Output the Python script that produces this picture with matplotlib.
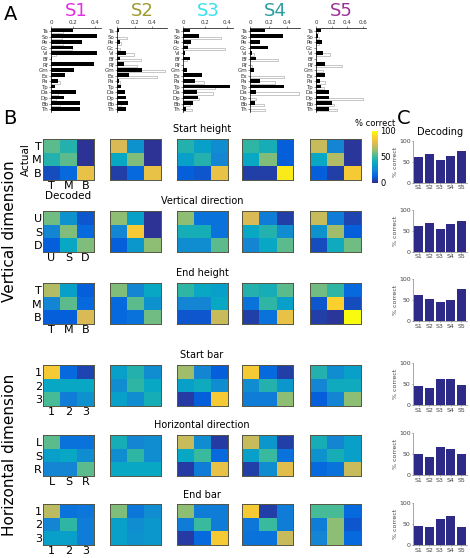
import numpy as np
import matplotlib
matplotlib.use("Agg")
import matplotlib.pyplot as plt
from matplotlib.colors import LinearSegmentedColormap

W, H = 470, 558

# ---- data -------------------------------------------------------------
subjects = ["S1", "S2", "S3", "S4", "S5"]
subject_colors = ["#e22fe2", "#9c9a30", "#36e2ee", "#2a9ea0", "#9e3196"]
muscles = ["Ta", "So", "Pe", "Gc", "Vi", "Bf", "Rf", "Gm",
           "Ex", "Pa", "Tp", "Da", "Dp", "Bb", "Th"]

# panel A: muscle weights (filled black bars / open grey bars), one list per subject
weights_black = [
    [0.20, 0.42, 0.28, 0.20, 0.42, 0.01, 0.39, 0.21, 0.13, 0.06, 0.04, 0.23, 0.12, 0.26, 0.26],
    [0.02, 0.00, 0.03, 0.00, 0.10, 0.03, 0.08, 0.29, 0.14, 0.02, 0.05, 0.09, 0.10, 0.13, 0.10],
    [0.06, 0.15, 0.07, 0.05, 0.02, 0.06, 0.00, 0.04, 0.17, 0.11, 0.43, 0.13, 0.14, 0.09, 0.03],
    [0.16, 0.36, 0.11, 0.19, 0.02, 0.07, 0.00, 0.04, 0.00, 0.11, 0.37, 0.06, 0.00, 0.05, 0.00],
    [0.06, 0.03, 0.08, 0.00, 0.09, 0.00, 0.11, 0.00, 0.12, 0.05, 0.06, 0.17, 0.17, 0.20, 0.17],
]
weights_open = [
    [0.11, 0.10, 0.11, 0.19, 0.05, 0.00, 0.00, 0.00, 0.00, 0.08, 0.00, 0.06, 0.05, 0.08, 0.00],
    [0.00, 0.11, 0.05, 0.03, 0.19, 0.27, 0.23, 0.55, 0.46, 0.03, 0.00, 0.00, 0.00, 0.05, 0.00],
    [0.00, 0.35, 0.04, 0.38, 0.00, 0.04, 0.00, 0.00, 0.00, 0.19, 0.29, 0.27, 0.15, 0.06, 0.08],
    [0.00, 0.00, 0.00, 0.00, 0.04, 0.30, 0.02, 0.00, 0.37, 0.27, 0.00, 0.53, 0.07, 0.15, 0.16],
    [0.02, 0.04, 0.04, 0.00, 0.18, 0.00, 0.33, 0.09, 0.00, 0.12, 0.10, 0.00, 0.60, 0.23, 0.27],
]
weight_xmax = [0.455, 0.57, 0.455, 0.54, 0.64]
weight_ticks = [[0, 0.2, 0.4], [0, 0.2, 0.4], [0, 0.2, 0.4], [0, 0.2, 0.4], [0, 0.2, 0.4, 0.6]]

# panel B: confusion matrices (% correct), rows = actual, cols = decoded
dimensions = ["Start height", "Vertical direction", "End height",
              "Start bar", "Horizontal direction", "End bar"]
class_labels = [["T", "M", "B"], ["U", "S", "D"], ["T", "M", "B"],
                ["1", "2", "3"], ["L", "S", "R"], ["1", "2", "3"]]

start_height = [
    [[55, 45, 2], [45, 55, 2], [8, 15, 80]],
    [[75, 30, 2], [38, 60, 2], [5, 15, 80]],
    [[45, 35, 28], [35, 45, 25], [12, 10, 80]],
    [[48, 42, 12], [38, 60, 12], [5, 5, 95]],
    [[72, 25, 3], [38, 68, 3], [12, 5, 85]],
]
vertical_direction = [
    [[58, 30, 10], [25, 60, 15], [12, 38, 60]],
    [[62, 35, 2], [25, 85, 2], [12, 32, 62]],
    [[62, 18, 18], [42, 42, 18], [28, 28, 55]],
    [[75, 22, 5], [38, 45, 28], [25, 38, 55]],
    [[72, 22, 6], [30, 65, 12], [8, 40, 58]],
]
end_height = [
    [[68, 35, 12], [25, 55, 15], [12, 12, 75]],
    [[60, 25, 38], [15, 55, 30], [15, 18, 58]],
    [[48, 38, 35], [25, 25, 38], [10, 10, 72]],
    [[45, 42, 55], [18, 48, 35], [5, 18, 80]],
    [[58, 48, 15], [10, 88, 8], [5, 3, 100]],
]
start_bar = [
    [[85, 15, 6], [38, 38, 38], [52, 22, 30]],
    [[35, 45, 28], [28, 48, 38], [35, 28, 42]],
    [[65, 25, 12], [35, 40, 28], [4, 12, 85]],
    [[85, 15, 5], [28, 45, 32], [22, 22, 62]],
    [[45, 28, 35], [25, 40, 40], [12, 25, 62]],
]
horizontal_direction = [
    [[55, 18, 18], [35, 38, 28], [25, 25, 55]],
    [[42, 25, 28], [28, 48, 28], [38, 38, 38]],
    [[72, 28, 4], [38, 50, 15], [4, 22, 80]],
    [[72, 32, 5], [35, 50, 18], [5, 28, 78]],
    [[42, 25, 35], [30, 42, 35], [15, 18, 72]],
]
end_bar = [
    [[70, 18, 20], [25, 48, 22], [35, 35, 22]],
    [[60, 20, 28], [35, 28, 32], [35, 30, 32]],
    [[62, 22, 22], [22, 50, 22], [4, 15, 85]],
    [[85, 5, 22], [20, 50, 22], [18, 18, 72]],
    [[52, 52, 15], [22, 62, 10], [25, 62, 15]],
]
confusions = [start_height, vertical_direction, end_height,
              start_bar, horizontal_direction, end_bar]

# panel C: decoding accuracy per subject
decoding = [
    [63, 69, 54, 65, 75],
    [63, 70, 54, 66, 75],
    [61, 52, 46, 50, 76],
    [46, 40, 62, 62, 47],
    [49, 43, 66, 61, 49],
    [46, 42, 63, 68, 43],
]

# ---- helpers ----------------------------------------------------------
parula = LinearSegmentedColormap.from_list("parula", [
    "#352a87", "#0363e1", "#1485d4", "#06a7c6", "#38b99e",
    "#92bf73", "#d9ba56", "#fcce2e", "#f9fb0e"])


def px_axes(fig, x0, y0, w, h):
    # axes from a pixel box (top-left origin)
    return fig.add_axes([x0 / W, 1 - (y0 + h) / H, w / W, h / H])


def fx(x):
    return x / W


def fy(y):
    return 1 - y / H


fig = plt.figure(figsize=(W / 100, H / 100), dpi=100)

# ---- panel A ----------------------------------------------------------
a_left = [51, 117, 183, 250, 316]
for k in range(5):
    ax = px_axes(fig, a_left[k], 28, 50, 84)
    y = np.arange(len(muscles))
    ax.barh(y + 0.2, weights_open[k], height=0.42, color="white",
            edgecolor="#b0b0b0", linewidth=0.5, zorder=1)
    ax.barh(y - 0.08, weights_black[k], height=0.65, color="black", zorder=2)
    ax.set_xlim(0, weight_xmax[k])
    ax.set_ylim(14.5, -0.55)
    ax.set_yticks(y, muscles)
    ax.set_xticks(weight_ticks[k], [f"{t:g}" for t in weight_ticks[k]])
    ax.xaxis.tick_top()
    ax.tick_params(labelsize=4, length=1.2, width=0.4, pad=0.8, colors="#333333")
    for s in ["right", "bottom"]:
        ax.spines[s].set_visible(False)
    for s in ["top", "left"]:
        ax.spines[s].set_linewidth(0.5)
    ax.set_title(subjects[k], color=subject_colors[k], fontsize=13, pad=1)

# ---- panel B ----------------------------------------------------------
col_x = [43, 110, 177, 242, 310]
row_y = [139, 211, 283, 365, 435, 504]
im = None
for r in range(6):
    for k in range(5):
        ax = px_axes(fig, col_x[k], row_y[r], 51, 41)
        im = ax.imshow(np.array(confusions[r][k]), cmap=parula, vmin=0, vmax=100,
                       aspect="auto")
        for s in ax.spines.values():
            s.set_color("#555544")
            s.set_linewidth(0.7)
        if k == 0:
            ax.set_xticks(range(3), class_labels[r])
            ax.set_yticks(range(3), class_labels[r])
            ax.tick_params(labelsize=8, length=0, pad=0.8)
            if r == 0:
                ax.set_ylabel("Actual", fontsize=7.5, labelpad=1)
                ax.set_xlabel("Decoded", fontsize=7.5, labelpad=0)
        else:
            ax.set_xticks([])
            ax.set_yticks([])
    fig.text(fx(202), fy(row_y[r] - 9.5), dimensions[r], fontsize=7,
             ha="center", va="center")

cax = px_axes(fig, 372, 131, 6, 52)
cb = fig.colorbar(im, cax=cax, ticks=[0, 50, 100])
cb.outline.set_visible(False)
cax.tick_params(labelsize=6, length=0, pad=1.5)
fig.text(fx(375), fy(124), "% correct", fontsize=6, ha="center", va="center")

fig.text(fx(10), fy(231), "Vertical dimension", fontsize=11,
         rotation=90, ha="center", va="center")
fig.text(fx(10), fy(455), "Horizontal dimension", fontsize=11,
         rotation=90, ha="center", va="center")

# ---- panel C ----------------------------------------------------------
c_y = [141, 210, 279, 363, 433, 503]
for r in range(6):
    ax = px_axes(fig, 413, c_y[r], 54, 42)
    ax.bar(range(1, 6), decoding[r], width=0.85, color="#2e2a87")
    ax.set_xlim(0.45, 5.55)
    ax.set_ylim(0, 100)
    ax.set_yticks([0, 50, 100])
    ax.set_xticks(range(1, 6), subjects)
    ax.tick_params(labelsize=4.5, length=1, width=0.4, pad=0.8, colors="#444444")
    ax.set_ylabel("% correct", fontsize=4.5, labelpad=0.5, color="#444444")
    for s in ["top", "right"]:
        ax.spines[s].set_visible(False)
    for s in ["left", "bottom"]:
        ax.spines[s].set_linewidth(0.4)
        ax.spines[s].set_color("#666666")
    if r == 0:
        ax.set_title("Decoding", fontsize=7, pad=4)

# ---- panel letters ----------------------------------------------------
fig.text(fx(11), fy(15), "A", fontsize=14, ha="center", va="center")
fig.text(fx(10), fy(119), "B", fontsize=14, ha="center", va="center")
fig.text(fx(404), fy(118), "C", fontsize=14, ha="center", va="center")

fig.savefig("out.png", dpi=100)
